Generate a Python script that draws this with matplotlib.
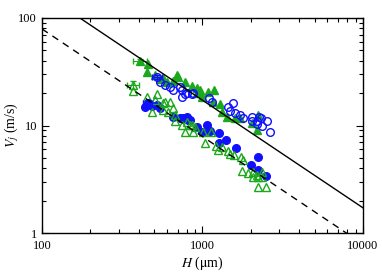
import numpy as np
import matplotlib
matplotlib.use("Agg")
import matplotlib.pyplot as plt
from matplotlib.ticker import FuncFormatter, LogLocator, NullFormatter

plt.rcParams['font.family'] = ['Liberation Serif', 'DejaVu Serif']
plt.rcParams['mathtext.fontset'] = 'stix'

# upper group: filled green triangles
h_gf = [457, 451, 506, 543, 567, 601, 655, 693, 703, 778, 860, 924, 924, 964, 993,
        1082, 1180, 1161, 1285, 1321, 1422, 1592, 1714, 2032, 2188, 2218]
v_gf = [37.3, 31.5, 29.5, 27.1, 27.7, 25.4, 25.9, 29.5, 28.3, 25.4, 23.3, 22.3, 20.1, 21.4, 18.4,
        20.5, 21.4, 16.6, 15.8, 13.4, 12.0, 11.7, 11.7, 10.5, 9.1, 12.5]
# upper group: open blue circles
h_bo = [543, 584, 628, 655, 724, 745, 800, 860, 745, 778, 873, 1097, 1146, 1442, 1549,
        1483, 1592, 1714, 1786, 2032, 2188, 2249, 2312, 2523, 2350, 2188, 2636, 2032]
v_bo = [25.4, 23.8, 22.8, 21.4, 22.8, 18.4, 20.1, 19.6, 21.4, 19.6, 20.1, 18.0, 16.6, 14.9, 16.2,
        13.6, 13.1, 12.5, 11.7, 12.0, 11.0, 12.0, 11.7, 11.0, 9.9, 10.3, 8.7, 11.0]
# lower group: filled blue circles
h_bf = [484, 438, 521, 543, 655, 724, 800, 836, 924, 756, 812, 993, 1067, 1114, 1268,
        1400, 1268, 1618, 2218, 2004, 2218, 2489]
v_bf = [15.2, 14.9, 15.5, 14.6, 12.0, 11.7, 12.0, 11.2, 9.7, 11.7, 11.2, 8.7, 10.1, 8.9, 8.5,
        7.3, 6.9, 6.2, 5.1, 4.3, 3.9, 3.4]
# lower group: open green triangles
h_go = [369, 451, 521, 506, 567, 628, 584, 655, 610, 484, 674, 674, 567, 800, 745, 860, 873,
        778, 836, 898, 1007, 1130, 1037, 1213, 1250, 1321, 1442, 1483, 1570, 1738, 1786,
        1762, 1919, 2065, 2065, 2218, 2350, 2350, 2218, 2489, 2188]
v_go = [20.9, 18.4, 19.6, 17.3, 16.2, 16.6, 16.6, 14.6, 13.4, 13.4, 12.5, 11.0, 13.9, 10.8, 10.1,
        10.1, 8.7, 8.7, 10.1, 9.7, 8.7, 8.7, 6.9, 6.4, 5.9, 6.3, 5.8, 5.4, 5.3, 5.1, 4.8,
        3.8, 3.6, 3.7, 3.3, 3.3, 3.7, 3.3, 2.7, 2.7, 3.5]

# averaged points with error bars (H, V, H err, V err)
err_gf = (408, 39.8, 40, 2)
err_bo = (521, 28.3, 35, 1)
err_bf = (457, 16.2, 30, 1)
err_go = (369, 23.8, 32, 2)

# V = k / H scalings
k_solid = 17200
k_dashed = 7900

green = '#1ca81c'
blue = '#1010ff'

fig = plt.figure(figsize=(3.82, 2.72), dpi=100)
ax = fig.add_axes([0.110, 0.143, 0.840, 0.791])

hh = np.logspace(2, 4, 50)
ax.plot(hh, k_solid / hh, '-', color='k', lw=1.0, zorder=3)
ax.plot(hh, k_dashed / hh, '--', color='k', lw=1.0, dashes=(5, 4), zorder=3)

ms = 5.5
ax.plot(h_gf, v_gf, '^', color=green, ms=ms, mec=green, zorder=2)
ax.plot(h_bo, v_bo, 'o', mfc='none', mec=blue, mew=1.0, ms=ms, zorder=2)
ax.plot(h_bf, v_bf, 'o', color=blue, ms=ms, zorder=2)
ax.plot(h_go, v_go, '^', mfc='none', mec=green, mew=1.0, ms=ms, zorder=2)

ax.errorbar(err_gf[0], err_gf[1], xerr=err_gf[2], yerr=err_gf[3], fmt='^', color=green,
            ms=ms, capsize=2, elinewidth=0.8, zorder=2)
ax.errorbar(err_bo[0], err_bo[1], xerr=err_bo[2], yerr=err_bo[3], fmt='o', mfc='none',
            mec=blue, ecolor=blue, ms=ms, capsize=2, elinewidth=0.8, zorder=2)
ax.errorbar(err_bf[0], err_bf[1], xerr=err_bf[2], yerr=err_bf[3], fmt='o', color=blue,
            ms=ms, capsize=2, elinewidth=0.8, zorder=2)
ax.errorbar(err_go[0], err_go[1], xerr=err_go[2], yerr=err_go[3], fmt='^', mfc='none',
            mec=green, ecolor=green, ms=ms, capsize=2, elinewidth=0.8, zorder=2)

ax.set_xscale('log')
ax.set_yscale('log')
ax.set_xlim(100, 10000)
ax.set_ylim(1, 100)

fmt = FuncFormatter(lambda v, p: '%d' % v)
ax.xaxis.set_major_formatter(fmt)
ax.yaxis.set_major_formatter(fmt)
ax.xaxis.set_minor_locator(LogLocator(base=10, subs=np.arange(2, 10)))
ax.yaxis.set_minor_locator(LogLocator(base=10, subs=np.arange(2, 10)))
ax.xaxis.set_minor_formatter(NullFormatter())
ax.yaxis.set_minor_formatter(NullFormatter())
ax.tick_params(which='both', direction='in', top=True, right=True, labelsize=9)
ax.tick_params(which='major', length=5, width=0.8)
ax.tick_params(which='minor', length=3, width=0.8)
ax.tick_params(axis='x', pad=5)
for s in ax.spines.values():
    s.set_linewidth(1.0)

ax.set_xlabel(r'$H$ ($\mathrm{\mu}$m)', fontsize=10, labelpad=2)
ax.set_ylabel(r'$V_j$ (m/s)', fontsize=10)
ax.yaxis.set_label_coords(-0.065, 0.5)

fig.savefig('out.png', dpi=100)
